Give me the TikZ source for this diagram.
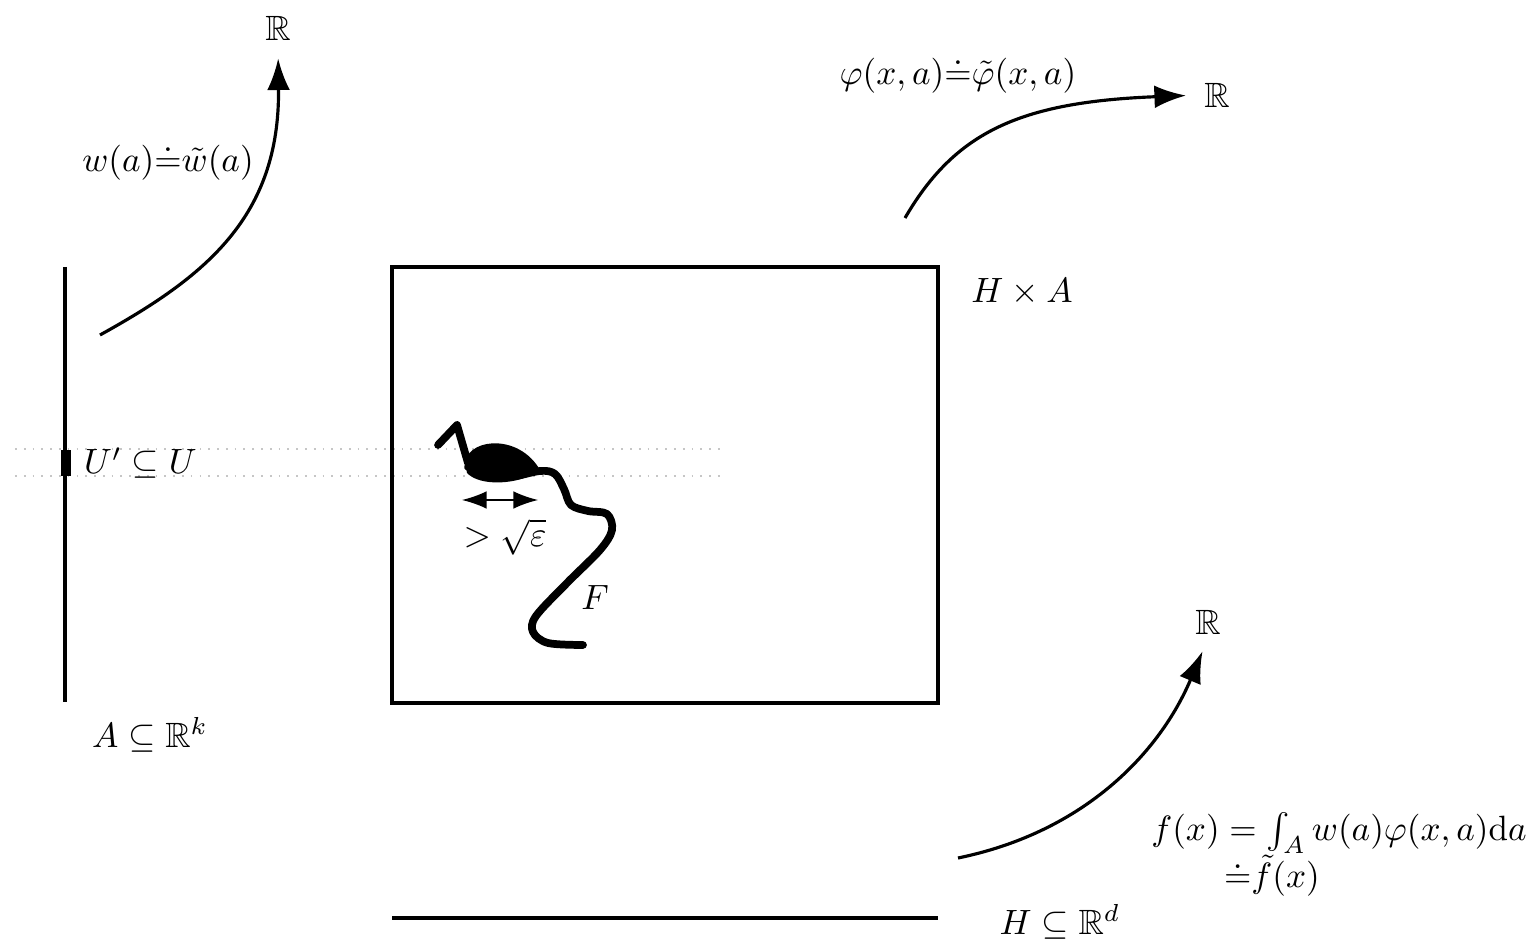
\documentclass[tikz,border=0pt]{standalone}
\usepackage{amsmath,amssymb}
\usepackage{tikz}
\usetikzlibrary{arrows.meta,calc,positioning}
\tikzset{
  linea/.style={line width=0.9pt},
  flecha/.style={line width=0.9pt,-{Latex[length=9pt,width=6.5pt]},shorten >=4pt},
  guia/.style={gray!45,dotted,line width=0.5pt},
  curvaF/.style={line width=2.2pt,line join=round,line cap=round},
  etiq/.style={inner sep=1pt}
}
\begin{document}
\begin{tikzpicture}
\useasboundingbox (0,0) rectangle (15.3,9.47);
% el conjunto A y la banda U'
\draw[guia] (0.15,4.98) -- (7.2,4.98);
\draw[guia] (0.15,4.71) -- (7.2,4.71);
\draw[linea] (0.65,6.80) -- (0.65,2.45);
\fill (0.61,4.71) rectangle (0.71,4.97);
\node[etiq,anchor=west] (Uprima) at (0.80,4.84) {$U'\subseteq U$};
\node[etiq] (A) at (1.50,2.12) {$A\subseteq\mathbb{R}^k$};
% H x A y H
\draw[linea] (3.92,6.80) rectangle (9.38,2.44);
\node[etiq] (HA) at (10.22,6.55) {$H\times A$};
\draw[linea] (3.92,0.29) -- (9.38,0.29);
\node[etiq] (H) at (10.60,0.25) {$H\subseteq\mathbb{R}^d$};
% la curva F
\fill (4.65,4.86) .. controls (4.72,5.10) and (5.20,5.12) .. (5.40,4.77)
  .. controls (5.20,4.62) and (4.80,4.60) .. (4.67,4.74) -- cycle;
\draw[curvaF] (4.38,5.02) -- (4.57,5.22) -- (4.68,4.84);
\draw[curvaF] plot[smooth,tension=0.55] coordinates {(4.68,4.80) (5.05,4.70) (5.40,4.76)
  (5.55,4.73) (5.64,4.58) (5.71,4.42) (5.88,4.36) (6.07,4.33) (6.12,4.17) (6.00,3.97)
  (5.67,3.64) (5.36,3.31) (5.33,3.15) (5.48,3.04) (5.83,3.02)};
\node[etiq] (F) at (5.95,3.49) {$F$};
\coordinate (izq) at (4.62,4.47);
\coordinate (der) at (5.38,4.47);
\draw[{Latex[length=7pt,width=5pt]}-{Latex[length=7pt,width=5pt]},line width=0.4pt] (izq) -- (der);
\node[etiq] (eps) at (5.05,4.10) {$>\sqrt{\varepsilon}$};
% flechas a R
\node[etiq] (R1) at (2.78,9.19) {$\mathbb{R}$};
\coordinate (w0) at (1.00,6.12);
\draw[flecha] (w0) .. controls (2.05,6.70) and (2.80,7.30) .. (R1.south);
\node[etiq] (w) at (1.68,7.85) {$w(a){\doteq}\tilde{w}(a)$};
\node[etiq] (R2) at (12.17,8.52) {$\mathbb{R}$};
\coordinate (p0) at (9.05,7.29);
\draw[flecha] (p0) .. controls (9.55,8.15) and (10.20,8.45) .. (R2.west);
\node[etiq] (phi) at (9.58,8.72) {$\varphi(x,a){\doteq}\tilde{\varphi}(x,a)$};
\node[etiq] (R3) at (12.08,3.25) {$\mathbb{R}$};
\coordinate (f0) at (9.58,0.89);
\draw[flecha] (f0) .. controls (10.85,1.15) and (11.60,1.95) .. (R3.south);
\node[etiq] (f1) at (13.39,1.14) {$f(x)=\int_A w(a)\varphi(x,a)\mathrm{d}a$};
\node[etiq] (f2) at (12.72,0.71) {${\doteq}\tilde{f}(x)$};
\end{tikzpicture}
\end{document}
